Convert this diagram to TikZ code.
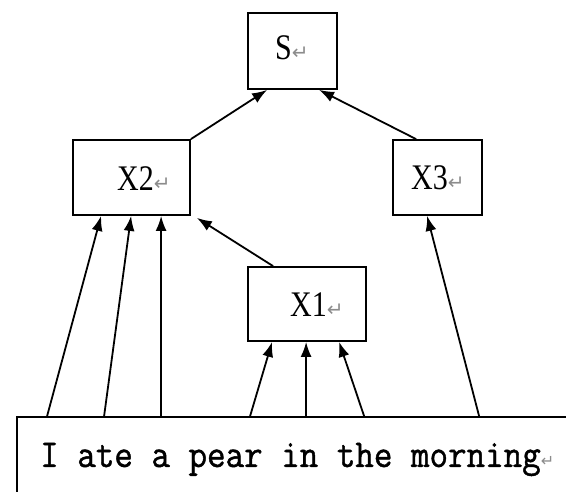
\documentclass[tikz,border=0pt]{standalone}
\usepackage{fontspec}
\setmainfont{Liberation Serif}
\newfontfamily\monofnt{Latin Modern Mono}[FakeBold=1.2]
\newfontfamily\symfnt{DejaVu Sans}
\usetikzlibrary{arrows.meta}
\newcommand{\retmark}[1]{{\fontsize{#1}{#1}\symfnt\color{black!45}\char"21B5}}
\tikzset{
  box/.style={draw, line width=1.8pt, rectangle, inner sep=0pt},
  lbl/.style={anchor=base west, inner sep=0pt, font=\fontsize{30}{30}\selectfont},
  arr/.style={line width=1.8pt, -{Latex[length=15pt,width=11pt]}},
}
\begin{document}
\begin{tikzpicture}[x=1pt,y=-1pt]
\useasboundingbox (0,0) rectangle (566,492);
\clip (0,0) rectangle (566,492);
\fill[white] (0,0) rectangle (566,492);
% boxes
\node[box, minimum width=89pt, minimum height=76pt] (S) at (292.5,51) {};
\node[box, minimum width=117pt, minimum height=75pt] (X2) at (131.5,177.5) {};
\node[box, minimum width=89pt, minimum height=75pt] (X3) at (437.5,177.5) {};
\node[box, minimum width=118pt, minimum height=74pt] (X1) at (307,304) {};
\node[box, minimum width=583pt, minimum height=103pt] (bot) at (308.5,468.5) {};
% labels
\node[lbl] (Sl) at (275,60) {\scalebox{1}[1.2]{S}\retmark{20}};
\node[lbl] (X2l) at (117,191) {\scalebox{1}[1.2]{X2}\retmark{20}};
\node[lbl] (X3l) at (411,190) {\scalebox{1}[1.2]{X3}\retmark{20}};
\node[lbl] (X1l) at (290,317) {\scalebox{1}[1.2]{X1}\retmark{20}};
\node[anchor=base west, inner sep=0pt] (txt) at (40,467)
  {\scalebox{1}[1.1]{\fontsize{36}{36}\monofnt I ate a pear in the morning}\retmark{16}};
% connectors
\draw[arr] ([xshift=31pt]bot.north west) -- ([xshift=29pt]X2.south west);
\draw[arr] ([xshift=88pt]bot.north west) -- ([xshift=59pt]X2.south west);
\draw[arr] ([xshift=145pt]bot.north west) -- ([xshift=89pt]X2.south west);
\draw[arr] ([xshift=234pt]bot.north west) -- ([xshift=25pt]X1.south west);
\draw[arr] ([xshift=290pt]bot.north west) -- ([xshift=59pt]X1.south west);
\draw[arr] ([xshift=348pt]bot.north west) -- ([xshift=92pt]X1.south west);
\draw[arr] ([xshift=463pt]bot.north west) -- ([xshift=35pt]X3.south west);
\draw[arr] ([xshift=26pt]X1.north west) -- ([xshift=6pt,yshift=-2pt]X2.south east);
\draw[arr] (X2.north east) -- ([xshift=20pt]S.south west);
\draw[arr] ([xshift=24pt]X3.north west) -- ([xshift=72pt]S.south west);
\end{tikzpicture}
\end{document}
